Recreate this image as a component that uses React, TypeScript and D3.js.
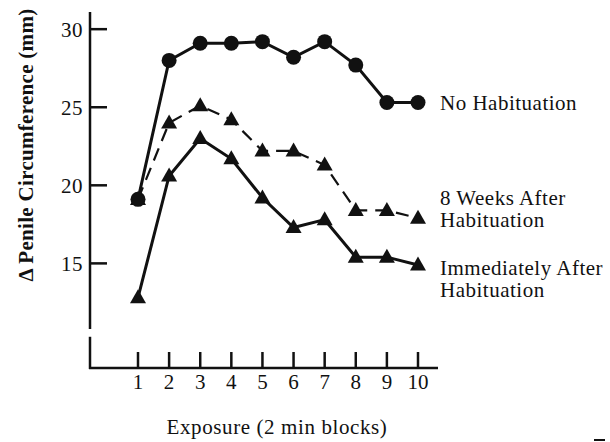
import React, { useEffect, useRef } from 'react';
import * as d3 from 'd3';

// exposure blocks (2 min each)
const blocks = [1, 2, 3, 4, 5, 6, 7, 8, 9, 10];
const yTicks = [15, 20, 25, 30];

// change in penile circumference (mm)
const noHabituation = [19.1, 28.0, 29.1, 29.1, 29.2, 28.2, 29.2, 27.7, 25.3, 25.3];
const eightWeeksAfter = [19.1, 24.0, 25.1, 24.2, 22.2, 22.2, 21.3, 18.4, 18.4, 17.9];
const immediatelyAfter = [12.8, 20.6, 23.0, 21.7, 19.2, 17.3, 17.8, 15.4, 15.4, 14.9];

const seriesLabels = {
  none: ['No Habituation'],
  eight: ['8 Weeks After', 'Habituation'],
  immediate: ['Immediately After', 'Habituation'],
};

const FONT = '"Liberation Serif", "DejaVu Serif", serif';
const INK = '#111';

const App: React.FC = () => {
  const svgRef = useRef<SVGSVGElement>(null);

  useEffect(() => {
    if (!svgRef.current) return;
    const svg = d3.select(svgRef.current);
    svg.selectAll('*').remove();

    const W = 610;
    const H = 442;
    svg.attr('width', W).attr('height', H);

    svg.append('rect').attr('width', W).attr('height', H).attr('fill', '#fff');

    // Scales
    const x = d3.scaleLinear().domain([1, 10]).range([138, 418]);
    const y = d3.scaleLinear().domain([8.3, 31.1]).range([368, 12]);

    const axisX = 90;
    const axisY = y(8.3);

    // Y axis (broken near the bottom)
    svg.append('line')
      .attr('x1', axisX).attr('x2', axisX)
      .attr('y1', y(31.1)).attr('y2', y(10.8))
      .attr('stroke', INK).attr('stroke-width', 2.5);
    svg.append('line')
      .attr('x1', axisX).attr('x2', axisX)
      .attr('y1', y(10.3)).attr('y2', axisY + 1)
      .attr('stroke', INK).attr('stroke-width', 2.5);

    // Y ticks + labels
    svg.selectAll('.ytick')
      .data(yTicks)
      .enter()
      .append('line')
      .attr('class', 'ytick')
      .attr('x1', axisX).attr('x2', axisX + 17)
      .attr('y1', d => y(d)).attr('y2', d => y(d))
      .attr('stroke', INK).attr('stroke-width', 2.5);

    svg.selectAll('.ylab')
      .data(yTicks)
      .enter()
      .append('text')
      .attr('class', 'ylab')
      .attr('x', axisX - 7)
      .attr('y', d => y(d))
      .attr('dy', '0.36em')
      .attr('text-anchor', 'end')
      .style('font-family', FONT)
      .style('font-size', '21px')
      .style('letter-spacing', '0.5px')
      .style('fill', INK)
      .text(d => d);

    // X axis
    svg.append('line')
      .attr('x1', axisX - 1).attr('x2', 438)
      .attr('y1', axisY).attr('y2', axisY)
      .attr('stroke', INK).attr('stroke-width', 2.5);

    svg.selectAll('.xtick')
      .data(blocks)
      .enter()
      .append('line')
      .attr('class', 'xtick')
      .attr('x1', d => x(d)).attr('x2', d => x(d))
      .attr('y1', axisY).attr('y2', axisY - 16)
      .attr('stroke', INK).attr('stroke-width', 2.5);

    svg.selectAll('.xlab')
      .data(blocks)
      .enter()
      .append('text')
      .attr('class', 'xlab')
      .attr('x', d => x(d))
      .attr('y', 389)
      .attr('text-anchor', 'middle')
      .style('font-family', FONT)
      .style('font-size', '21px')
      .style('fill', INK)
      .text(d => d);

    // Axis titles
    svg.append('text')
      .attr('x', 277)
      .attr('y', 434)
      .attr('text-anchor', 'middle')
      .style('font-family', FONT)
      .style('font-size', '21px')
      .style('letter-spacing', '0.6px')
      .style('fill', INK)
      .text('Exposure (2 min blocks)');

    svg.append('text')
      .attr('transform', 'translate(33,145) rotate(-90)')
      .attr('text-anchor', 'middle')
      .style('font-family', FONT)
      .style('font-size', '21px')
      .style('font-weight', 'bold')
      .style('letter-spacing', '0.3px')
      .style('fill', INK)
      .text('\u0394 Penile Circumference (mm)');

    // Lines
    const line = d3.line<number>()
      .x((_, i) => x(blocks[i]))
      .y(d => y(d));

    svg.append('path')
      .attr('d', line(eightWeeksAfter))
      .attr('fill', 'none')
      .attr('stroke', INK)
      .attr('stroke-width', 2.2)
      .attr('stroke-dasharray', '13,8');

    svg.append('path')
      .attr('d', line(immediatelyAfter))
      .attr('fill', 'none')
      .attr('stroke', INK)
      .attr('stroke-width', 3);

    svg.append('path')
      .attr('d', line(noHabituation))
      .attr('fill', 'none')
      .attr('stroke', INK)
      .attr('stroke-width', 3);

    // Markers
    const tri = (cx: number, cy: number) => {
      const s = 16;
      const h = 14;
      return `M${cx},${cy - h * 0.6}L${cx + s / 2},${cy + h * 0.4}L${cx - s / 2},${cy + h * 0.4}Z`;
    };

    [eightWeeksAfter, immediatelyAfter].forEach((vals, k) => {
      svg.selectAll(`.tri${k}`)
        .data(vals)
        .enter()
        .append('path')
        .attr('class', `tri${k}`)
        .attr('d', (d, i) => tri(x(blocks[i]), y(d)))
        .attr('fill', INK);
    });

    svg.selectAll('.dot')
      .data(noHabituation)
      .enter()
      .append('circle')
      .attr('class', 'dot')
      .attr('cx', (_, i) => x(blocks[i]))
      .attr('cy', d => y(d))
      .attr('r', 7.5)
      .attr('fill', INK);

    // Series labels at line ends
    const last = blocks.length - 1;
    const addLabel = (lines: string[], baseY: number) => {
      const t = svg.append('text')
        .attr('x', 440)
        .attr('y', baseY)
        .style('font-family', FONT)
        .style('font-size', '21px')
        .style('letter-spacing', '0.5px')
        .style('fill', INK);
      lines.forEach((l, i) => {
        t.append('tspan').attr('x', 440).attr('dy', i === 0 ? 0 : 22).text(l);
      });
    };
    addLabel(seriesLabels.none, y(noHabituation[last]) + 7);
    addLabel(seriesLabels.eight, y(eightWeeksAfter[last]) - 13);
    addLabel(seriesLabels.immediate, y(immediatelyAfter[last]) + 10);

    // scan mark bottom-right
    svg.append('line')
      .attr('x1', 594).attr('x2', 605)
      .attr('y1', 440).attr('y2', 440)
      .attr('stroke', INK).attr('stroke-width', 2);
  }, []);

  return (
    <div style={{ position: 'absolute', left: 0, top: 0, width: 610, height: 442, background: '#fff' }}>
      <svg ref={svgRef} style={{ display: 'block' }} />
    </div>
  );
};

export default App;
